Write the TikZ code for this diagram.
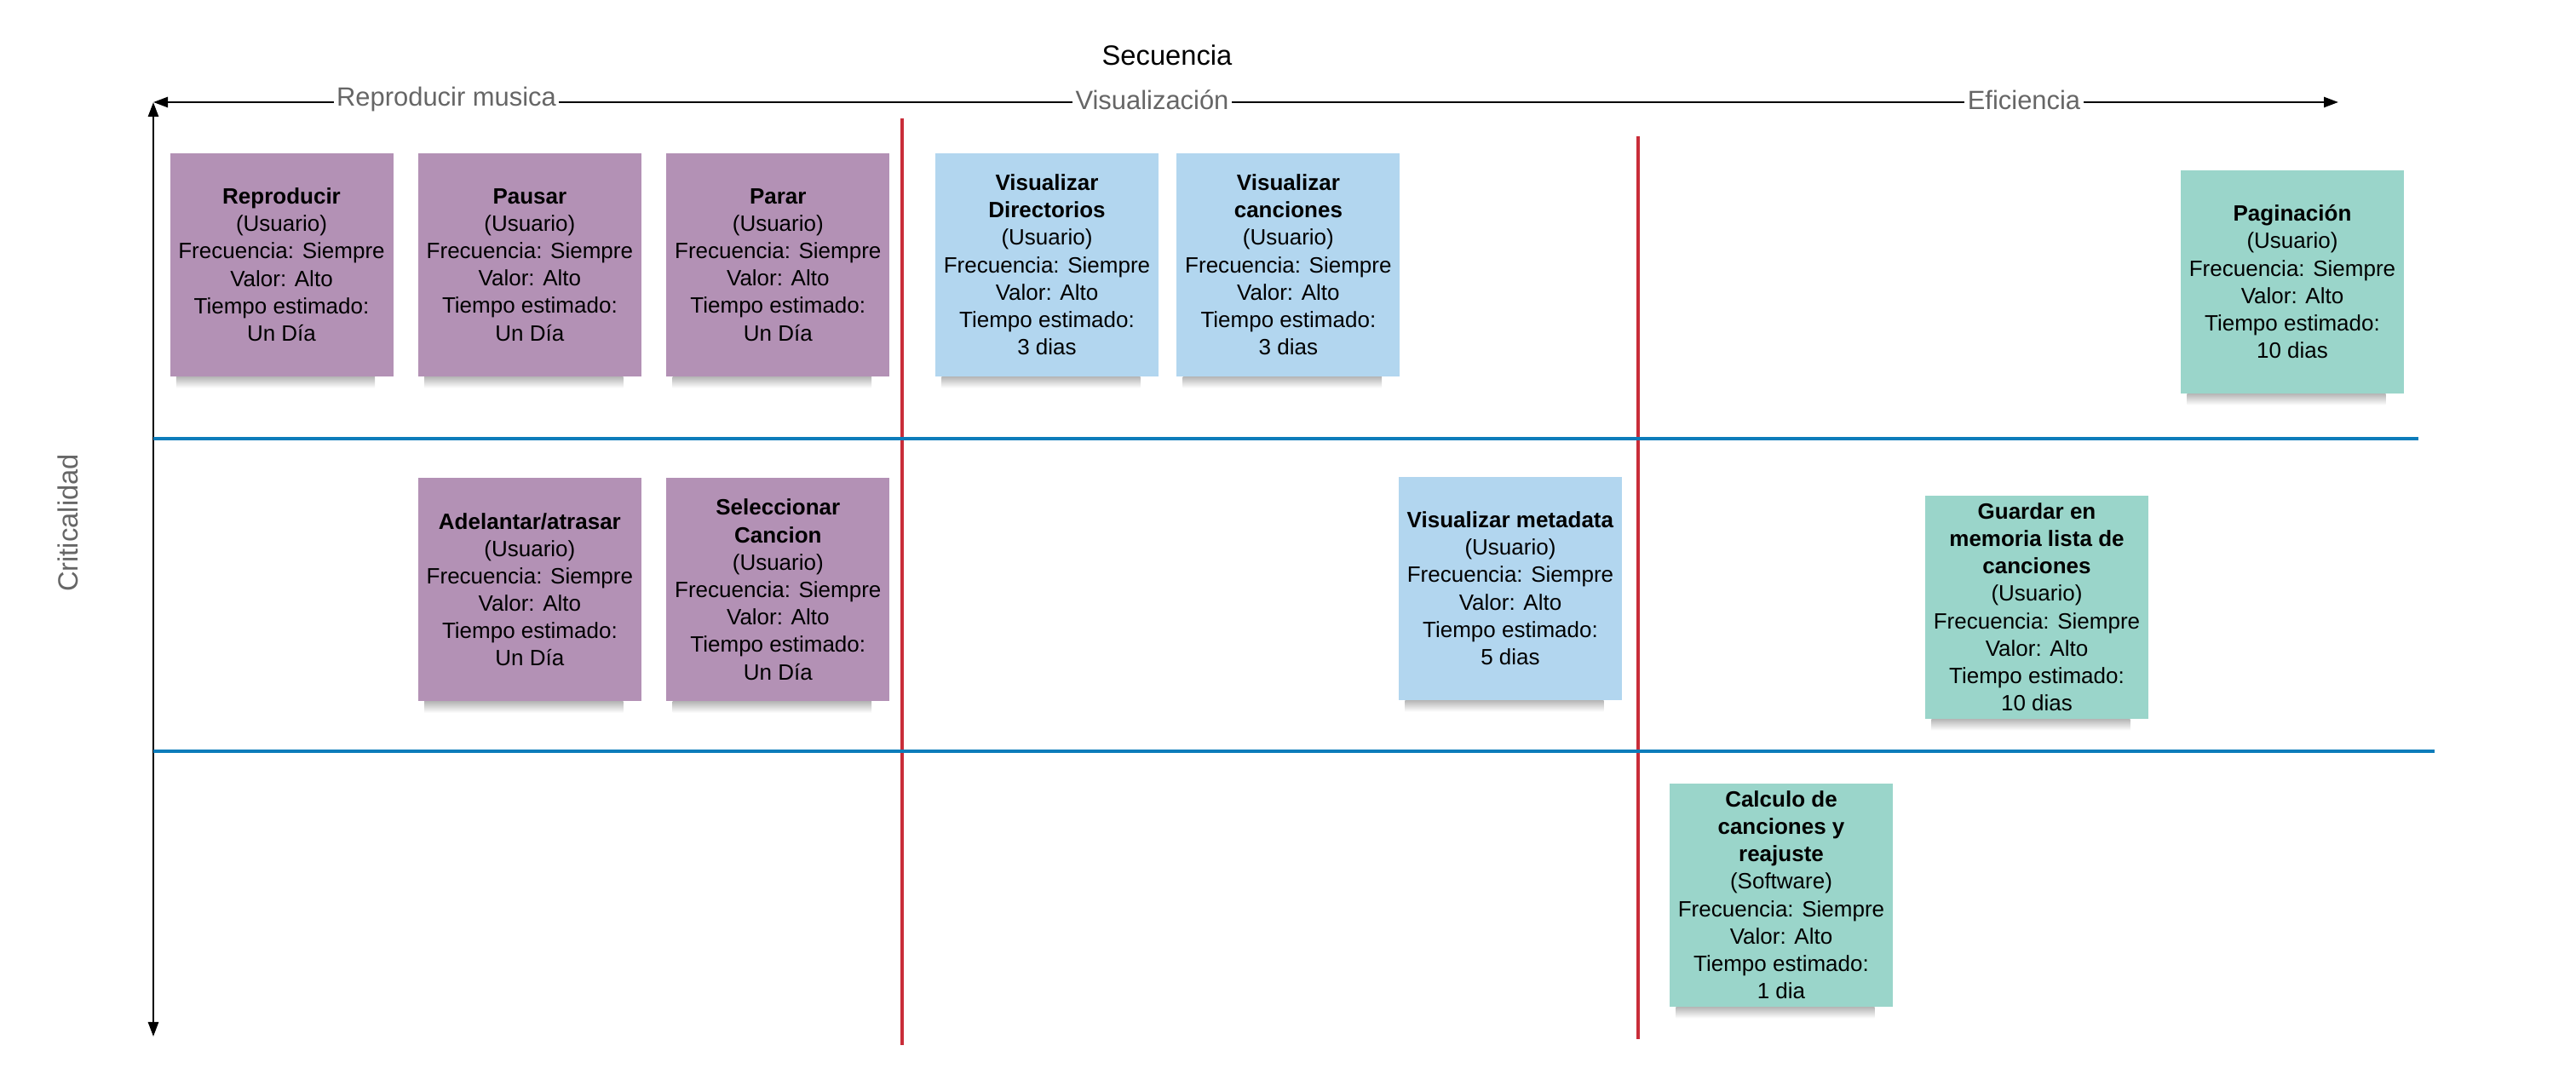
\documentclass[tikz,border=0pt]{standalone}
\usepackage{fontspec}
\setmainfont{Liberation Sans}
\usepackage{tikz}
\usetikzlibrary{arrows.meta, positioning, calc}
\definecolor{cardpurple}{RGB}{179, 145, 181}
\definecolor{cardblue}{RGB}{178, 214, 239}
\definecolor{cardteal}{RGB}{154, 213, 202}
\definecolor{rowblue}{RGB}{12, 124, 186}
\definecolor{colred}{RGB}{201, 45, 57}
\definecolor{labelgray}{RGB}{102, 102, 102}
\newcommand{\historia}[3]{#1\\(#2)\\Frecuencia: Siempre\\Valor: Alto\\Tiempo estimado:\\#3}
\tikzset{
  card/.style={minimum width=2.62cm, minimum height=2.62cm, inner sep=1pt, align=center, font=\fontsize{7.4}{9.16}\selectfont},
  cardshadow/.style={top color=black!28, bottom color=white},
  axisline/.style={line width=0.7pt, {Triangle[length=0.17cm, width=0.12cm]}-{Triangle[length=0.17cm, width=0.12cm]}},
  axislabel/.style={fill=white, text=labelgray, inner xsep=1pt, inner ysep=0.5pt, font=\fontsize{8.8}{10}\selectfont},
  colline/.style={colred, line width=1.05pt},
  rowline/.style={rowblue, line width=1.1pt}
}

\begin{document}
\begin{tikzpicture}
  \useasboundingbox (0,0) rectangle (30.24,-12.68);

  % Ejes
  \coordinate (origen) at (1.80,-1.20);
  \coordinate (finx) at (27.45,-1.20);
  \coordinate (finy) at (1.80,-12.17);
  \draw[axisline] (origen) -- (finx);
  \draw[axisline] (origen) -- (finy);
  \node[axislabel] (lblmusica) at (5.24,-1.17) {Reproducir musica};
  \node[axislabel] (lblvis) at (13.525,-1.17) {Visualización};
  \node[axislabel] (lblefic) at (23.76,-1.17) {Eficiencia};
  \node[font=\fontsize{9.3}{11}\selectfont] (secuencia) at (13.70,-0.645) {Secuencia};
  \node[rotate=90, text=labelgray, font=\fontsize{9.3}{11}\selectfont] (criticalidad) at (0.80,-6.14) {Criticalidad};

  % Separadores
  \draw[colline] (10.588,-1.39) -- (10.588,-12.27);
  \draw[colline] (19.227,-1.60) -- (19.227,-12.20);
  \draw[rowline] (1.80,-5.15) -- (28.39,-5.15);
  \draw[rowline] (1.80,-8.82) -- (28.58,-8.82);

  % Fila 1
  \node[card, fill=cardpurple] (reproducir) at (3.305,-3.108) {\historia{\textbf{Reproducir}}{Usuario}{Un Día}};
  \node[card, fill=cardpurple, right=0.28cm of reproducir] (pausar) {\historia{\textbf{Pausar}}{Usuario}{Un Día}};
  \node[card, fill=cardpurple, right=0.28cm of pausar] (parar) {\historia{\textbf{Parar}}{Usuario}{Un Día}};
  \node[card, fill=cardblue] (verdirs) at (12.29,-3.108) {\historia{\textbf{Visualizar}\\\textbf{Directorios}}{Usuario}{3 dias}};
  \node[card, fill=cardblue, right=0.20cm of verdirs] (vercanciones) {\historia{\textbf{Visualizar}\\\textbf{canciones}}{Usuario}{3 dias}};
  \node[card, fill=cardteal] (paginacion) at (26.91,-3.308) {\historia{\textbf{Paginación}}{Usuario}{10 dias}};

  % Fila 2
  \node[card, fill=cardpurple, below=1.18cm of pausar] (adelantar) {\historia{\textbf{Adelantar/atrasar}}{Usuario}{Un Día}};
  \node[card, fill=cardpurple, below=1.18cm of parar] (seleccionar) {\historia{\textbf{Seleccionar}\\\textbf{Cancion}}{Usuario}{Un Día}};
  \node[card, fill=cardblue] (vermeta) at (17.73,-6.908) {\historia{\textbf{Visualizar metadata}}{Usuario}{5 dias}};
  \node[card, fill=cardteal] (guardar) at (23.91,-7.128) {\historia{\textbf{Guardar en}\\\textbf{memoria lista de}\\\textbf{canciones}}{Usuario}{10 dias}};

  % Fila 3
  \node[card, fill=cardteal] (calculo) at (20.91,-10.508) {\historia{\textbf{Calculo de}\\\textbf{canciones y}\\\textbf{reajuste}}{Software}{1 dia}};

  % Sombras
  \foreach \n in {reproducir, pausar, parar, verdirs, vercanciones, paginacion, adelantar, seleccionar, vermeta, guardar, calculo}
    \shade[cardshadow] ($(\n.south west)+(0.08,0)$) rectangle ($(\n.south east)+(-0.22,-0.13)$);
\end{tikzpicture}
\end{document}
